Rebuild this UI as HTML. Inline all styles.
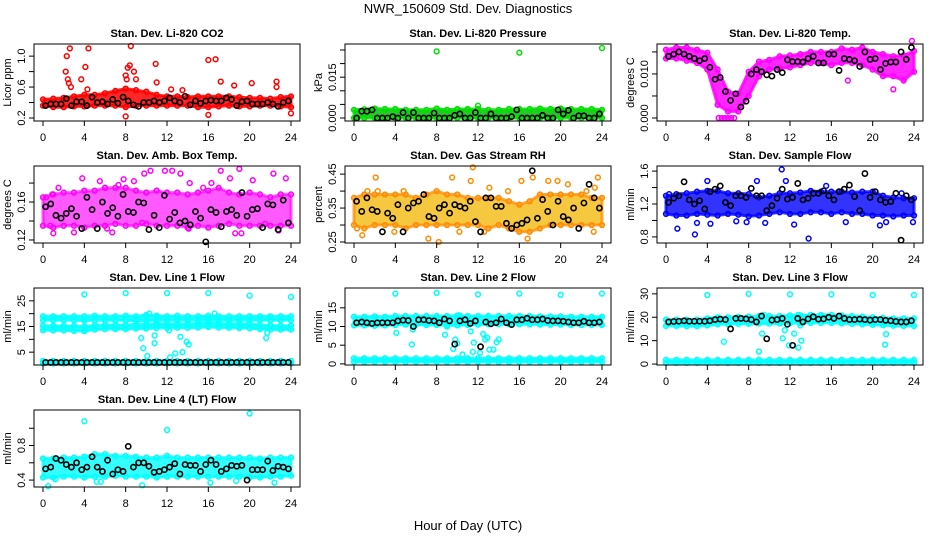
<!DOCTYPE html>
<html><head><meta charset="utf-8">
<style>
html,body{margin:0;padding:0;background:#fff;}
svg{display:block;font-family:"Liberation Sans",Arial,sans-serif;}
</style></head>
<body>
<svg id="chart" width="936" height="540" viewBox="0 0 936 540" xmlns="http://www.w3.org/2000/svg">
<text x="468" y="13" text-anchor="middle" font-size="13">NWR_150609  Std. Dev. Diagnostics</text>
<text x="468" y="530" text-anchor="middle" font-size="13">Hour of Day (UTC)</text>
</svg>
<script>
// ---------- data ----------
const hourTicks = [0,4,8,12,16,20,24];

const co2Hi = [0.44,0.45,0.46,0.48,0.50,0.50,0.52,0.55,0.58,0.56,0.54,0.50,0.48,0.48,0.47,0.48,0.48,0.48,0.48,0.47,0.46,0.46,0.45,0.47,0.48];
const co2Lo = [0.36,0.34,0.34,0.35,0.35,0.36,0.36,0.36,0.34,0.36,0.36,0.36,0.36,0.36,0.36,0.34,0.34,0.35,0.36,0.35,0.35,0.36,0.36,0.35,0.34];
const co2OutX = [2.3,2.2,2.4,2.5,2.6,2.7,3.7,4.1,4.3,4.4,8,8,8.1,8.2,8.4,8.5,8.8,9,10.9,11,12.4,13.5,16,16,16.7,17.2,18.5,20.2,22.6,22.6,24];
const co2OutY = [1.0,0.8,0.7,0.65,1.1,0.6,0.7,0.86,0.57,1.1,0.22,0.75,0.7,0.85,0.88,1.13,0.8,0.7,0.9,0.66,0.57,0.56,0.24,0.95,0.96,0.67,0.62,0.65,0.67,0.6,0.26];
const co2Black = [0.36,0.38,0.38,0.38,0.45,0.36,0.41,0.41,0.36,0.47,0.40,0.41,0.38,0.44,0.39,0.47,0.42,0.37,0.35,0.40,0.40,0.42,0.40,0.42,0.46,0.42,0.40,0.48,0.37,0.42,0.39,0.42,0.43,0.42,0.42,0.46,0.44,0.36,0.41,0.42,0.38,0.38,0.38,0.40,0.38,0.35,0.40,0.42];

const presHi = [0.003,0.0032,0.0035,0.0033,0.0033,0.003,0.003,0.003,0.0035,0.003,0.0033,0.0033,0.0033,0.003,0.003,0.0033,0.0033,0.0033,0.0035,0.0033,0.0035,0.0033,0.0033,0.0033,0.003];
const presLo = [0,0,0,0,0,0,0,0,0,0,0,0,0,0,0,0,0,0,0,0,0,0,0,0,0];
const presOutX = [8,16,24,12];
const presOutY = [0.0245,0.024,0.0257,0.0045];
const presBlack = [0,0.0025,0.0025,0.003,0,0,0,0.0005,0,0.002,0,0.002,0,0,0,0.0018,0,0,0,0.001,0.0015,0,0,0.002,0,0,0.0015,0,0,0,0.0005,0.003,0,0,0,0,0.001,0,0,0.003,0.0015,0.0028,0,0.0008,0.0008,0,0,0.0015];

const tempHi = [0.0155,0.016,0.016,0.0155,0.0148,0.011,0.006,0.0055,0.0105,0.0128,0.0132,0.014,0.0142,0.0145,0.015,0.015,0.015,0.0158,0.0155,0.016,0.015,0.0145,0.014,0.0142,0.0152];
const tempLo = [0.0135,0.0135,0.013,0.0125,0.011,0.003,0.0015,0.0015,0.005,0.0095,0.011,0.0112,0.0115,0.012,0.0125,0.0125,0.012,0.0125,0.0125,0.012,0.011,0.0095,0.0095,0.0085,0.0105];
const tempOutX = [5.1,5.4,5.7,6,6.3,6.6,17.6,22,23.8];
const tempOutY = [0,0,0,0,0,0,0.0085,0.0065,0.0175];
const tempBlack = [0.014,0.0145,0.015,0.0145,0.014,0.0135,0.013,0.0135,0.0115,0.0088,0.0092,0.006,0.004,0.0055,0.0025,0.0038,0.010,0.011,0.0105,0.0098,0.0095,0.011,0.0103,0.0132,0.0128,0.0128,0.0127,0.0135,0.014,0.0125,0.0125,0.0145,0.0145,0.0108,0.0135,0.0133,0.013,0.0117,0.015,0.0133,0.0135,0.011,0.0124,0.0127,0.0127,0.015,0.0133,0.016];

const ambHi = [0.165,0.168,0.17,0.17,0.172,0.172,0.175,0.175,0.175,0.172,0.17,0.172,0.17,0.17,0.168,0.17,0.172,0.175,0.17,0.168,0.17,0.168,0.165,0.168,0.168];
const ambLo = [0.135,0.133,0.135,0.135,0.133,0.135,0.135,0.137,0.135,0.135,0.137,0.135,0.135,0.135,0.133,0.135,0.133,0.135,0.137,0.135,0.135,0.135,0.135,0.135,0.135];
const ambOutX = [0.3,0.9,1.5,0.7,1.0,3.0,3.8,5.5,6,6.7,7.3,7.8,8.8,9.8,10.4,11.8,12.5,13.3,14.2,15.5,16.3,17.2,18.1,19,19.2,18.6,20.3,22.3,23.5,21.5,22.8,6.2,9.6,14.1];
const ambOutY = [0.165,0.168,0.175,0.135,0.127,0.128,0.185,0.182,0.175,0.128,0.178,0.184,0.182,0.19,0.193,0.193,0.193,0.19,0.18,0.175,0.18,0.193,0.185,0.195,0.127,0.127,0.183,0.19,0.185,0.137,0.13,0.132,0.138,0.132];
const ambBlack = [0.155,0.158,0.146,0.143,0.148,0.153,0.145,0.132,0.165,0.152,0.132,0.16,0.148,0.154,0.145,0.168,0.15,0.149,0.16,0.159,0.131,0.146,0.133,0.167,0.142,0.149,0.138,0.14,0.136,0.15,0.143,0.118,0.152,0.149,0.134,0.15,0.152,0.146,0.17,0.145,0.152,0.153,0.133,0.158,0.157,0.131,0.162,0.138];

const rhHi = [0.38,0.39,0.39,0.39,0.39,0.39,0.38,0.39,0.40,0.39,0.39,0.38,0.38,0.38,0.38,0.37,0.36,0.37,0.39,0.39,0.39,0.39,0.39,0.38,0.38];
const rhLo = [0.30,0.29,0.30,0.30,0.30,0.29,0.30,0.30,0.30,0.30,0.30,0.30,0.30,0.29,0.30,0.29,0.28,0.28,0.29,0.30,0.30,0.30,0.30,0.30,0.30];
const rhOutX = [0.3,0.8,2.1,2.3,1.3,4.8,7.2,8.2,9.5,11.3,11.5,13.1,14.9,16.2,17.3,16.8,18.8,19.7,20.7,22.5,23.3,23.2,23.6,3.9,10.2,12.6];
const rhOutY = [0.29,0.27,0.44,0.40,0.40,0.40,0.26,0.25,0.44,0.43,0.47,0.41,0.40,0.43,0.44,0.26,0.43,0.43,0.42,0.40,0.41,0.28,0.44,0.28,0.28,0.28];
const rhBlack = [0.37,0.34,0.38,0.345,0.34,0.28,0.335,0.32,0.36,0.28,0.35,0.365,0.37,0.39,0.325,0.32,0.35,0.36,0.335,0.36,0.355,0.35,0.37,0.31,0.28,0.38,0.38,0.355,0.355,0.305,0.29,0.3,0.305,0.315,0.46,0.32,0.375,0.34,0.3,0.37,0.325,0.315,0.35,0.29,0.365,0.42,0.38,0.35];

const flowHi = [1.30,1.32,1.33,1.35,1.36,1.36,1.33,1.33,1.32,1.28,1.30,1.33,1.33,1.34,1.36,1.35,1.35,1.35,1.34,1.35,1.35,1.30,1.28,1.27,1.27];
const flowLo = [1.08,1.06,1.06,1.08,1.07,1.06,1.08,1.07,1.05,1.06,1.08,1.10,1.08,1.08,1.10,1.10,1.08,1.10,1.08,1.08,1.06,1.06,1.05,1.06,1.06];
const flowOutX = [1.1,2.8,3.0,4.3,4.0,6.8,7.8,8.8,9.6,11.2,11.6,13.8,12.4,15.5,17.4,20.7,21.3,23.9,22.8,0.3];
const flowOutY = [0.9,0.83,0.97,0.96,1.48,0.99,0.98,1.48,0.97,1.62,1.48,0.78,0.95,1.42,0.98,0.94,0.98,0.98,1.33,1.32];
const flowBlack = [1.22,1.27,1.3,1.47,1.25,1.2,1.24,1.14,1.35,1.38,1.42,1.22,1.18,1.3,1.3,1.28,1.39,1.3,1.3,1.12,1.18,1.27,1.38,1.26,1.28,1.45,1.25,1.27,1.33,1.33,1.36,1.3,1.25,1.35,1.38,1.43,1.29,1.12,1.57,1.28,1.35,1.25,1.22,1.23,1.33,0.76,1.3,1.25];

const l1UpHi = [19,19,19,19,19,19.2,19,19,19.2,19,19.5,19.2,19,19.2,19,19,19.2,19,19,19,19,19,19,19,19];
const l1UpLo = [17.4,17.4,17.4,17.4,17.3,17.4,17.5,17.4,17.4,17.3,17.3,17.4,17.4,17.5,17.5,17.5,17.6,17.5,17.4,17.5,17.5,17.4,17.4,17.4,17.4];
const l1MidHi = [15.3,15.3,15.2,15.2,15,15.5,15.6,15.6,15.6,15.8,15.8,16,16,16,16,16.2,16.5,16.2,16,16,16,15.6,15.4,15.3,15.3];
const l1MidLo = [13.6,13.5,13.5,13.3,13.2,13.8,14,14,14,14.2,14.2,14.4,14.4,14.5,14.5,14.6,14.8,14.6,14.5,14.4,14.3,14,13.8,13.8,13.8];
const l1BotHi = [1.6,1.6,1.6,1.6,1.6,1.6,1.6,1.6,1.6,1.6,1.6,1.6,1.6,1.6,1.6,1.6,1.6,1.6,1.6,1.6,1.6,1.6,1.6,1.6,1.6];
const l1BotLo = [0.6,0.6,0.6,0.6,0.6,0.6,0.6,0.6,0.6,0.6,0.6,0.6,0.6,0.6,0.6,0.6,0.6,0.6,0.6,0.6,0.6,0.6,0.6,0.6,0.6];
const l1OutX = [4,8,12,16,20,24,9.5,9.7,10.1,10.3,10.8,10.8,11,12.3,12.8,13.3,13.5,13.9,14.1,12.2,21.6,21.7,16.6];
const l1OutY = [27.5,28,28,28,27,26.5,10.5,6.5,3.5,20,8.5,11.5,19,3,4.5,11,5,9,8,13.5,10.5,12.5,20];
const l1Black = [1,1,1,1,1,1,1,1,1,1,1,1,1,1,1,1,1,1,1,1,1,1,1,1,1,1,1,1,1,1,1,1,1,1,1,1,1,1,1,1,1,1,1,1,1,1,1,1];

const l2Hi = [12.6,12.6,12.7,12.6,12.8,12.8,12.8,12.8,12.8,12.8,12.9,12.8,12.8,12.8,12.8,12.8,12.8,12.8,12.7,12.7,12.7,12.6,12.6,12.6,12.6];
const l2Lo = [10.3,10.3,10.2,10.3,10.4,10.5,10.5,10.4,10.4,10.3,10.3,10.4,10.5,10.6,10.6,10.6,10.6,10.6,10.5,10.5,10.5,10.4,10.4,10.4,10.4];
const l2BotHi = [1.5,1.5,1.5,1.5,1.5,1.5,1.5,1.5,1.5,1.5,1.5,1.5,1.5,1.5,1.5,1.5,1.5,1.5,1.5,1.5,1.5,1.5,1.5,1.5,1.5];
const l2BotLo = [0.5,0.5,0.5,0.5,0.5,0.5,0.5,0.5,0.5,0.5,0.5,0.5,0.5,0.5,0.5,0.5,0.5,0.5,0.5,0.5,0.5,0.5,0.5,0.5,0.5];
const l2OutX = [4,8,12,16,20,24,4.1,5.6,5.7,8.8,9,9.6,9.8,10,10.2,10.5,11.3,11.6,12.2,12.5,12.7,12.9,13.1,13.5,13.8,14.0,11.5];
const l2OutY = [18.8,19,18.6,18.8,18.5,18.8,8.3,5.2,9.2,7.8,10,4,6.5,5.5,13,2.5,8.7,5.7,3,8,6.5,7,3.8,3.8,5.8,6.5,3.2];
const l2Black = [11,11.2,11,10.8,11,11,11,11,11.5,11.7,11.6,10,11.8,11.8,11.6,11.5,11,12,11.5,5.3,11.5,11.8,10.8,11.5,4.6,11.2,10.7,11,12,11,10.5,11.8,11.8,12.2,11.8,11.8,12,11.6,11.5,11.5,11.4,11.2,11,11,11.4,11,11,11.2];

const l3Hi = [19,19,19,19,19.5,20,20,20.2,20.3,20.5,20.5,20.5,20.8,20.8,21,21,21,20.8,20.5,20.3,20,19.8,19.5,19.5,19.5];
const l3Lo = [16.3,16.3,16.2,16.2,16.5,17,17,17.2,17.2,17.3,17.3,17.3,17.5,17.5,17.6,17.6,17.6,17.4,17.2,17,16.8,16.6,16.4,16.3,16.3];
const l3BotHi = [1.8,1.8,1.8,1.8,1.8,1.8,1.8,1.8,1.8,1.8,1.8,1.8,1.8,1.8,1.8,1.8,1.8,1.8,1.8,1.8,1.8,1.8,1.8,1.8,1.8];
const l3BotLo = [0.5,0.5,0.5,0.5,0.5,0.5,0.5,0.5,0.5,0.5,0.5,0.5,0.5,0.5,0.5,0.5,0.5,0.5,0.5,0.5,0.5,0.5,0.5,0.5,0.5];
const l3OutX = [4,8,12,16,20,24,5.6,9,9.3,9.5,11.3,11.5,11.9,12.4,12.8,12.8,13,13.1,21.2,21.3];
const l3OutY = [29.5,30,29.8,29.8,29.5,29.5,9.5,5.3,13,21,11,14.5,8,13,21,7,16.5,10,8.3,12.8];
const l3Black = [18,18.2,18.3,18.5,18.3,18.3,18.3,18.3,18.5,19,19.2,19,15,19.5,19.5,19.3,19,18,20.5,10.8,18.8,19,19.5,17,8,19.5,18,19.3,20.2,19.2,19.3,20,19.5,20.5,19.5,19,19,19.2,19,18.8,19,19,18.7,18.5,18.2,18,18,18.5];

const l4Hi = [0.65,0.65,0.66,0.66,0.67,0.7,0.7,0.68,0.68,0.67,0.66,0.66,0.68,0.66,0.66,0.66,0.66,0.66,0.66,0.66,0.66,0.65,0.66,0.66,0.66];
const l4Lo = [0.43,0.43,0.44,0.44,0.43,0.44,0.44,0.45,0.44,0.44,0.44,0.43,0.44,0.44,0.44,0.44,0.44,0.44,0.44,0.44,0.43,0.43,0.44,0.44,0.45];
const l4OutX = [4,12,20,9.6,0.5,1.2,5.2,5.6,16.2,18.7,22.4];
const l4OutY = [1.08,0.98,1.17,0.34,0.33,0.41,0.38,0.38,0.37,0.39,0.37];
const l4Black = [0.53,0.55,0.65,0.63,0.58,0.55,0.6,0.52,0.55,0.67,0.55,0.5,0.63,0.47,0.52,0.5,0.79,0.55,0.6,0.6,0.56,0.49,0.5,0.52,0.55,0.59,0.47,0.58,0.57,0.57,0.5,0.58,0.63,0.58,0.5,0.53,0.57,0.56,0.57,0.4,0.52,0.52,0.52,0.62,0.51,0.56,0.55,0.53];

// ---------- drawing ----------
const NS = "http://www.w3.org/2000/svg";
const svg = document.getElementById('chart');
function mk(tag, attrs, parent){
  const e = document.createElementNS(NS, tag);
  for (const k in attrs) e.setAttribute(k, attrs[k]);
  (parent||svg).appendChild(e);
  return e;
}

const colLeft = [34, 345, 657];
const rowTop = [44, 166, 288, 410];
const BW = 266, BH = 77;

function panel(o){
  const L = colLeft[o.col], T = rowTop[o.row], B = T + BH;
  const g = mk('g', {});
  
  
  const xs = h => L + 9 + h * (248 / 24);
  const ys = v => B - (v - o.dom[0]) / (o.dom[1] - o.dom[0]) * BH;
  const fo = o.fillOpacity === undefined ? 0.85 : o.fillOpacity;

  (o.bands || []).forEach((bd, bi) => {
    const n = bd.hi.length;
    const tx = i => i * 24 / (n - 1);
    let d = '';
    for (let i = 0; i < n; i++) d += (i ? 'L' : 'M') + xs(tx(i)).toFixed(1) + ' ' + ys(bd.hi[i]).toFixed(1);
    for (let i = n - 1; i >= 0; i--) d += 'L' + xs(tx(i)).toFixed(1) + ' ' + ys(bd.lo[i]).toFixed(1);
    const p = mk('path', {d: d + 'Z', fill: o.fill, 'fill-opacity': fo, stroke: o.color, 'stroke-opacity': fo, 'stroke-width': 3, 'stroke-linejoin': 'round'}, g);
    
    
    for (let i = 0; i < n; i++) {
      [bd.hi[i], bd.lo[i]].forEach(v => {
        const c = mk('circle', {cx: xs(tx(i)), cy: ys(v), r: 2.4, fill: 'none', stroke: o.color, 'stroke-width': 1.5}, g);
        
        
      });
    }
  });
  o.outX.forEach((h, i) => {
    const c = mk('circle', {cx: xs(h), cy: ys(o.outY[i]), r: 2.4, fill: 'none', stroke: o.color, 'stroke-width': 1.5}, g);
    
    
  });
  o.black.forEach((v, i) => {
    const c = mk('circle', {cx: xs(0.25 + 0.5 * i), cy: ys(v), r: 2.6, fill: 'none', stroke: '#000', 'stroke-width': 1.6}, g);
    
    
  });
  const fr = mk('rect', {x: L, y: T, width: BW, height: BH, fill: 'none', stroke: '#000', 'stroke-width': 1}, g);
  
  
  hourTicks.forEach(h => {
    mk('line', {x1: xs(h), x2: xs(h), y1: B, y2: B + 5, stroke: '#000'}, g);
    const t = mk('text', {x: xs(h), y: B + 20, 'text-anchor': 'middle', 'font-size': 11}, g);
    t.textContent = h;
    
    
  });
  o.yticks.forEach((v, i) => {
    const y = ys(v);
    mk('line', {x1: L, x2: L - 5, y1: y, y2: y, stroke: '#000'}, g);
    if (o.ylabels[i] !== '') {
      const t = mk('text', {x: 0, y: 0, 'text-anchor': 'middle', 'font-size': 11, transform: 'translate(' + (L - 9) + ',' + y + ') rotate(-90)'}, g);
      t.textContent = o.ylabels[i];
      
      
    }
  });
  const yt = mk('text', {x: 0, y: 0, 'text-anchor': 'middle', 'font-size': 11, transform: 'translate(' + (L - 23) + ',' + (T + BH / 2) + ') rotate(-90)'}, g);
  yt.textContent = o.ytitle;
  
  
  const tt = mk('text', {x: L + BW / 2, y: T - 7, 'text-anchor': 'middle', 'font-size': 11, 'font-weight': 'bold'}, g);
  tt.textContent = o.title;
  
  
}

panel({name:'co2', row:0, col:0, title:'Stan. Dev. Li-820 CO2', ytitle:'Licor ppm', dom:[0.161,1.157], color:'#ff0000', fill:'#ff0000',
  bands:[{hi:co2Hi, lo:co2Lo}], outX:co2OutX, outY:co2OutY, black:co2Black,
  yticks:[0.2,0.4,0.6,0.8,1.0], ylabels:['0.2','','0.6','','1.0']});
panel({name:'pressure', row:0, col:1, title:'Stan. Dev. Li-820 Pressure', ytitle:'kPa', dom:[-0.0011,0.0272], color:'#00e000', fill:'#00c000',
  bands:[{hi:presHi, lo:presLo}], outX:presOutX, outY:presOutY, black:presBlack,
  yticks:[0,0.005,0.01,0.015,0.02,0.025], ylabels:['0.000','','','0.015','','']});
panel({name:'temp', row:0, col:2, title:'Stan. Dev. Li-820 Temp.', ytitle:'degrees C', dom:[-0.00068,0.0168], color:'#ff00ff', fill:'#ff00ff',
  bands:[{hi:tempHi, lo:tempLo}], outX:tempOutX, outY:tempOutY, black:tempBlack,
  yticks:[0,0.005,0.01,0.015], ylabels:['0.000','','0.010','']});
panel({name:'amb-box', row:1, col:0, title:'Stan. Dev. Amb. Box Temp.', ytitle:'degrees C', dom:[0.1168,0.198], color:'#ff00ff', fill:'#ff00ff', fillOpacity:0.65,
  bands:[{hi:ambHi, lo:ambLo}], outX:ambOutX, outY:ambOutY, black:ambBlack,
  yticks:[0.12,0.14,0.16,0.18], ylabels:['0.12','','0.16','']});
panel({name:'rh', row:1, col:1, title:'Stan. Dev. Gas Stream RH', ytitle:'percent', dom:[0.247,0.474], color:'#ff8c00', fill:'#f2b600', fillOpacity:0.75,
  bands:[{hi:rhHi, lo:rhLo}], outX:rhOutX, outY:rhOutY, black:rhBlack,
  yticks:[0.25,0.3,0.35,0.4,0.45], ylabels:['0.25','','0.35','','0.45']});
panel({name:'sample-flow', row:1, col:2, title:'Stan. Dev. Sample Flow', ytitle:'ml/min', dom:[0.726,1.662], color:'#0000ff', fill:'#0000ff', fillOpacity:0.8,
  bands:[{hi:flowHi, lo:flowLo}], outX:flowOutX, outY:flowOutY, black:flowBlack,
  yticks:[0.8,1.0,1.2,1.4,1.6], ylabels:['0.8','','1.2','','1.6']});
panel({name:'line1', row:2, col:0, title:'Stan. Dev. Line 1 Flow', ytitle:'ml/min', dom:[0,30], color:'#00ffff', fill:'#00ffff',
  bands:[{hi:l1UpHi, lo:l1UpLo},{hi:l1MidHi, lo:l1MidLo},{hi:l1BotHi, lo:l1BotLo}], outX:l1OutX, outY:l1OutY, black:l1Black,
  yticks:[5,10,15,20,25], ylabels:['5','','15','','25']});
panel({name:'line2', row:2, col:1, title:'Stan. Dev. Line 2 Flow', ytitle:'ml/min', dom:[-0.3,20.3], color:'#00ffff', fill:'#00ffff',
  bands:[{hi:l2Hi, lo:l2Lo},{hi:l2BotHi, lo:l2BotLo}], outX:l2OutX, outY:l2OutY, black:l2Black,
  yticks:[0,5,10,15], ylabels:['0','5','10','15']});
panel({name:'line3', row:2, col:2, title:'Stan. Dev. Line 3 Flow', ytitle:'ml/min', dom:[-0.4,32.5], color:'#00ffff', fill:'#00ffff',
  bands:[{hi:l3Hi, lo:l3Lo},{hi:l3BotHi, lo:l3BotLo}], outX:l3OutX, outY:l3OutY, black:l3Black,
  yticks:[0,10,20,30], ylabels:['0','10','20','30']});
panel({name:'line4', row:3, col:0, title:'Stan. Dev. Line 4 (LT) Flow', ytitle:'ml/min', dom:[0.32,1.211], color:'#00ffff', fill:'#00ffff', fillOpacity:0.8,
  bands:[{hi:l4Hi, lo:l4Lo}], outX:l4OutX, outY:l4OutY, black:l4Black,
  yticks:[0.4,0.6,0.8,1.0], ylabels:['0.4','','0.8','']});
</script>
</body></html>
